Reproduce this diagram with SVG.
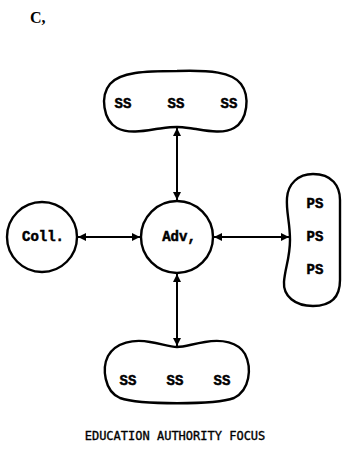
<svg xmlns="http://www.w3.org/2000/svg" width="351" height="450" viewBox="0 0 351 450">
  <style>
    .shape { fill: none; stroke: #000; stroke-width: 2.4; }
    .lbl { font-family: "Liberation Mono", "DejaVu Sans Mono", monospace; font-weight: bold; font-size: 14px; fill: #000; stroke: #000; stroke-width: 0.5; text-anchor: middle; }
    .link { stroke: #000; stroke-width: 2; fill: none; marker-start: url(#head); marker-end: url(#head); }
    .caption { font-family: "DejaVu Sans Mono", "Liberation Mono", monospace; font-size: 12px; fill: #000; stroke: #000; stroke-width: 0.35; text-anchor: middle; }
    .tag { font-family: "Liberation Serif", serif; font-weight: bold; font-size: 16px; fill: #000; }
  </style>
  <defs>
    <marker id="head" viewBox="0 0 10 10" refX="10" refY="5" markerUnits="userSpaceOnUse" markerWidth="9" markerHeight="8" orient="auto-start-reverse">
      <path d="M0,0 L10,5 L0,10 Z" fill="#000"/>
    </marker>
  </defs>
  <rect width="351" height="450" fill="#fff"/>

  <text class="tag" x="30" y="23">C,</text>

  <!-- connectors -->
  <g id="connectors">
    <line class="link" x1="177" y1="128" x2="177" y2="200"/>
    <line class="link" x1="177" y1="274" x2="177" y2="346"/>
    <line class="link" x1="78" y1="237" x2="140" y2="237"/>
    <line class="link" x1="214" y1="237" x2="289" y2="237"/>
  </g>

  <!-- upper SS group -->
  <g id="ss-top">
    <path class="shape" d="M177,71 C210,70 232,72 241,84 C250,96 248,120 234,128 C224,134 208,131 196,129 C188,128 182,127 177,127 C170,127 164,128 156,129 C144,131 128,134 117,128 C103,120 100,96 110,84 C120,72 145,71 177,71 Z"/>
    <text class="lbl" x="123" y="108">SS</text>
    <text class="lbl" x="176" y="108">SS</text>
    <text class="lbl" x="229" y="108">SS</text>
  </g>

  <!-- college -->
  <g id="coll">
    <circle class="shape" cx="42" cy="237" r="35"/>
    <text class="lbl" x="43" y="241">Coll.</text>
  </g>

  <!-- adviser -->
  <g id="adv">
    <circle class="shape" cx="177" cy="237" r="36"/>
    <text class="lbl" x="179" y="241">Adv,</text>
  </g>

  <!-- PS group -->
  <g id="ps">
    <path class="shape" d="M313,174 C332,174 340,186 340,200 L340,280 C340,298 330,306 313,306 C295,306 283,296 284,282 C285,268 290,258 290,240 C290,222 286,212 287,198 C288,184 298,174 313,174 Z"/>
    <text class="lbl" x="315" y="208">PS</text>
    <text class="lbl" x="315" y="241">PS</text>
    <text class="lbl" x="315" y="274">PS</text>
  </g>

  <!-- lower SS group -->
  <g id="ss-bottom">
    <path class="shape" d="M177,347 C185,347 192,344 205,342 C222,339 238,342 245,354 C252,368 250,390 234,398 C215,405 140,405 120,398 C104,391 102,368 108,356 C116,342 134,339 150,342 C162,344 170,347 177,347 Z"/>
    <text class="lbl" x="128" y="385">SS</text>
    <text class="lbl" x="175" y="385">SS</text>
    <text class="lbl" x="222" y="385">SS</text>
  </g>

  <text class="caption" x="175" y="440">EDUCATION AUTHORITY FOCUS</text>
</svg>
